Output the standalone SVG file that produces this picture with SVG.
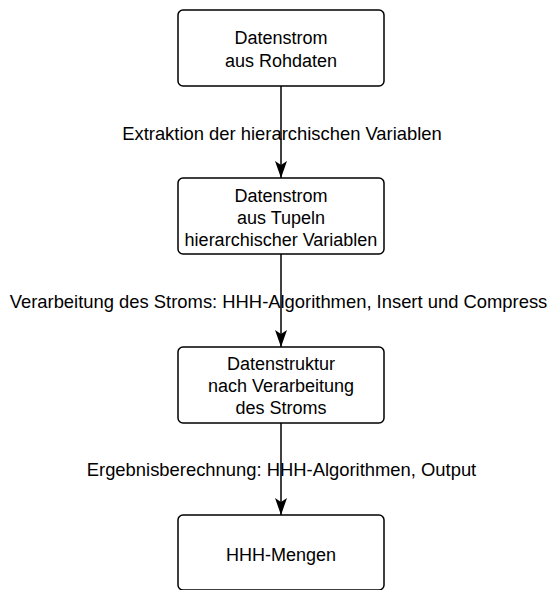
<svg xmlns="http://www.w3.org/2000/svg" width="552" height="590" viewBox="0 0 552 590">
  <style>
    .box { fill: #ffffff; stroke: #000000; stroke-width: 1.5; }
    .txt { font-family: "Liberation Sans", Arial, sans-serif; font-size: 18px; fill: #000000; text-anchor: middle; }
    .lbl { font-family: "Liberation Sans", Arial, sans-serif; font-size: 18.4px; fill: #000000; text-anchor: middle; }
    .edge { stroke: #000000; stroke-width: 1.5; fill: none; }
  </style>
  <defs>
    <marker id="arrow" markerUnits="userSpaceOnUse" viewBox="0 0 17 12" markerWidth="17" markerHeight="12" refX="17" refY="6" orient="auto">
      <path d="M0,0 L17,6 L0,12 L4,6 Z" fill="#000000"/>
    </marker>
  </defs>
  <rect width="552" height="590" fill="#ffffff"/>

  <g id="connectors">
    <g id="e1">
      <line class="edge" x1="281" y1="86" x2="281" y2="178" marker-end="url(#arrow)"/>
      <text class="lbl" x="282" y="139.5">Extraktion der hierarchischen Variablen</text>
    </g>
    <g id="e2">
      <line class="edge" x1="281" y1="254" x2="281" y2="347" marker-end="url(#arrow)"/>
      <text class="lbl" x="278.5" y="308">Verarbeitung des Stroms: HHH-Algorithmen, Insert und Compress</text>
    </g>
    <g id="e3">
      <line class="edge" x1="281" y1="423" x2="281" y2="515" marker-end="url(#arrow)"/>
      <text class="lbl" x="281.5" y="475.5">Ergebnisberechnung: HHH-Algorithmen, Output</text>
    </g>
  </g>

  <g id="n1">
    <rect class="box" x="178" y="10" width="206" height="76" rx="5"/>
    <text class="txt" x="281" y="44">Datenstrom</text>
    <text class="txt" x="281" y="67">aus Rohdaten</text>
  </g>
  <g id="n2">
    <rect class="box" x="178" y="178" width="206" height="76" rx="5"/>
    <text class="txt" x="281" y="201.5">Datenstrom</text>
    <text class="txt" x="281" y="223.5">aus Tupeln</text>
    <text class="txt" x="281" y="245.5">hierarchischer Variablen</text>
  </g>
  <g id="n3">
    <rect class="box" x="178" y="347" width="206" height="76" rx="5"/>
    <text class="txt" x="281" y="370">Datenstruktur</text>
    <text class="txt" x="281" y="392">nach Verarbeitung</text>
    <text class="txt" x="281" y="414">des Stroms</text>
  </g>
  <g id="n4">
    <rect class="box" x="178" y="515" width="206" height="75" rx="5"/>
    <text class="txt" x="281" y="560.5">HHH-Mengen</text>
  </g>
</svg>
